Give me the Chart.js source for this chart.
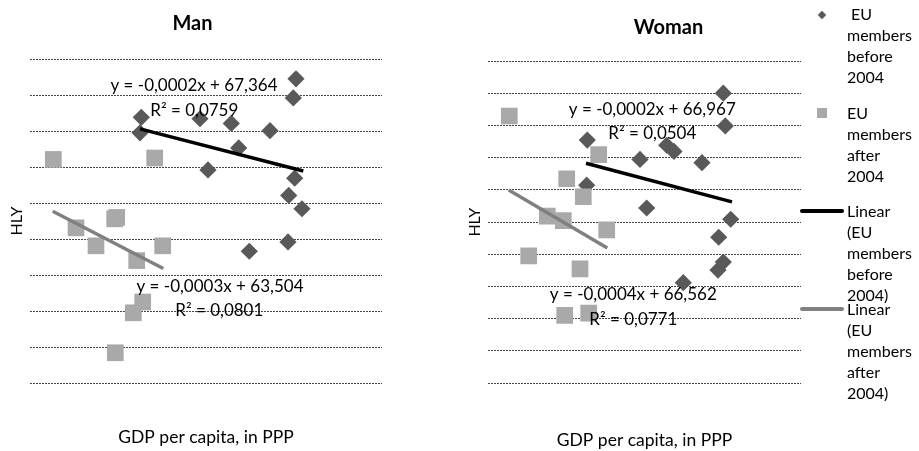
<!DOCTYPE html>
<html>
<head>
<meta charset="utf-8">
<script src="https://cdn.jsdelivr.net/npm/chart.js@4"></script>
<style>
  body { margin: 0; background: #fff; }
  #wrap { position: relative; width: 919px; height: 451px; background: #fff; overflow: hidden; font-family: Lato, sans-serif; }
  canvas { position: absolute; top: 0; }
  #man { left: 0; }
  #woman { left: 460px; }
  .leg { position: absolute; left: 847px; font-size: 16px; line-height: 21px; color: #000; }
  .mk { position: absolute; }
</style>
</head>
<body>
<div id="wrap">
  <canvas id="man" width="390" height="451"></canvas>
  <canvas id="woman" width="459" height="451"></canvas>

  <div class="mk" style="left:819px;top:12px;width:6px;height:6px;background:#595959;transform:rotate(45deg);"></div>
  <div class="leg" style="top:3px;">&nbsp;EU<br>members<br>before<br>2004</div>

  <div class="mk" style="left:817px;top:108px;width:10px;height:10px;background:#a9a9a9;"></div>
  <div class="leg" style="top:102px;">EU<br>members<br>after<br>2004</div>

  <div class="mk" style="left:800px;top:209px;width:44px;height:3.5px;background:#000;border-radius:2px;"></div>
  <div class="leg" style="top:200px;">Linear<br>(EU<br>members<br>before<br>2004)</div>

  <div class="mk" style="left:800px;top:307px;width:44px;height:3.5px;background:#808080;border-radius:2px;"></div>
  <div class="leg" style="top:298px;">Linear<br>(EU<br>members<br>after<br>2004)</div>
</div>
<script>
// --- Man ---
const manBeforeX = [26600, 26330, 11130, 11000, 17000, 20130, 24000, 20870, 17800, 26470, 25870, 27200, 25800, 21930];
const manBeforeY = [64.45, 63.92, 63.38, 62.95, 63.34, 63.21, 63.01, 62.53, 61.92, 61.69, 61.21, 60.84, 59.92, 59.66];
const manAfterX = [2330, 12470, 8670, 8470, 4600, 6600, 13270, 10670, 11270, 10330, 8530];
const manAfterY = [62.21, 62.25, 60.60, 60.56, 60.31, 59.81, 59.81, 59.40, 58.25, 57.95, 56.84];
const manTrendBeforeX = [11000, 27330];
const manTrendBeforeY = [63.06, 61.89];
const manTrendAfterX = [2270, 13330];
const manTrendAfterY = [60.77, 59.18];
const manEquations = ['y = -0,0002x + 67,364', 'R\u00B2 = 0,0759', 'y = -0,0003x + 63,504', 'R\u00B2 = 0,0801'];

// --- Woman ---
const womanBeforeX = [23530, 23730, 9930, 17870, 18600, 15200, 21400, 9870, 15870, 24270, 23070, 23530, 23000, 19530];
const womanBeforeY = [64.01, 62.99, 62.55, 62.39, 62.20, 61.95, 61.85, 61.15, 60.44, 60.09, 59.53, 58.76, 58.51, 58.12];
const womanAfterX = [2130, 11070, 7870, 9530, 5930, 7530, 11870, 4070, 9200, 7670, 10070];
const womanAfterY = [63.30, 62.10, 61.35, 60.79, 60.19, 60.05, 59.76, 58.95, 58.55, 57.10, 57.17];
const womanTrendBeforeX = [9800, 24400];
const womanTrendBeforeY = [61.83, 60.63];
const womanTrendAfterX = [2070, 11930];
const womanTrendAfterY = [61.00, 59.20];
const womanEquations = ['y = -0,0002x + 66,967', 'R\u00B2 = 0,0504', 'y = -0,0004x + 66,562', 'R\u00B2 = 0,0771'];

const FONT = 'Lato';
const DIAMOND = '#595959';
const SQUARE = '#a9a9a9';

const pts = (xs, ys) => xs.map((x, i) => ({ x: x, y: ys[i] }));

// draws the trendline equations at spots given in data units
const equationPlugin = {
  id: 'equations',
  afterDatasetsDraw(chart, args, opts) {
    const { ctx, scales } = chart;
    ctx.save();
    ctx.font = '17px ' + FONT;
    ctx.fillStyle = '#000';
    ctx.textAlign = 'center';
    ctx.textBaseline = 'middle';
    opts.items.forEach(it => {
      ctx.fillText(it.text, scales.x.getPixelForValue(it.x), scales.y.getPixelForValue(it.y));
    });
    ctx.restore();
  }
};

function makeChart(id, cfg) {
  const scales = {
    x: {
      type: 'linear',
      min: 0,
      max: cfg.xMax,
      grid: { display: false },
      border: { display: false },
      ticks: { display: false },
      title: { display: true, text: 'GDP per capita, in PPP', color: '#000', font: { family: FONT, size: 17.5 }, padding: cfg.xTitlePad },
      afterFit(scale) { scale.height = cfg.xAxisH; }
    },
    y: {
      min: cfg.yMin,
      max: cfg.yMax,
      ticks: { display: false, stepSize: 1 },
      grid: { color: '#444', lineWidth: 1, drawTicks: false },
      border: { display: false, dash: [2, 1] },
      title: { display: true, text: 'HLY', color: '#000', font: { family: FONT, size: 16 }, padding: 4 },
      afterFit(scale) { scale.width = cfg.yAxisW; }
    }
  };
  if (cfg.rightGap) {
    // empty box on the right so the title centres over plot + legend
    scales.gap = {
      position: 'right',
      display: true,
      grid: { display: false },
      border: { display: false },
      ticks: { display: false },
      afterFit(scale) { scale.width = cfg.rightGap; }
    };
  }
  return new Chart(document.getElementById(id), {
    type: 'scatter',
    plugins: [equationPlugin],
    data: {
      datasets: [
        {
          label: 'Linear (EU members before 2004)',
          data: pts(cfg.tbx, cfg.tby),
          showLine: true, borderColor: '#000', borderWidth: 3.5, pointRadius: 0, order: 0
        },
        {
          label: 'Linear (EU members after 2004)',
          data: pts(cfg.tax, cfg.tay),
          showLine: true, borderColor: '#808080', borderWidth: 3.5, pointRadius: 0, order: 0
        },
        {
          label: 'EU members after 2004',
          data: pts(cfg.ax, cfg.ay),
          pointStyle: 'rect', pointRadius: 11.8, backgroundColor: SQUARE, borderWidth: 0, order: 1
        },
        {
          label: ' EU members before 2004',
          data: pts(cfg.bx, cfg.by),
          pointStyle: 'rectRot', pointRadius: 8.6, backgroundColor: DIAMOND, borderWidth: 0, order: 2
        }
      ]
    },
    options: {
      responsive: false,
      animation: false,
      devicePixelRatio: 1,
      layout: { padding: cfg.layoutPad, autoPadding: false },
      scales: scales,
      plugins: {
        legend: { display: false },
        tooltip: { enabled: false },
        title: { display: true, text: cfg.title, color: '#000', font: { family: FONT, size: 20, weight: 'bold' }, padding: cfg.titlePad },
        equations: { items: cfg.eqItems }
      }
    }
  });
}

makeChart('man', {
  title: 'Man',
  bx: manBeforeX, by: manBeforeY, ax: manAfterX, ay: manAfterY,
  tbx: manTrendBeforeX, tby: manTrendBeforeY, tax: manTrendAfterX, tay: manTrendAfterY,
  xMax: 35200, yMin: 56, yMax: 65,
  xAxisH: 68, yAxisW: 27,
  layoutPad: { left: 3, right: 8, top: 0, bottom: 0 },
  titlePad: { top: 12, bottom: 23 },
  xTitlePad: { top: 44.8, bottom: 2.8 },
  eqItems: [
    { text: manEquations[0], x: 16400, y: 64.25 },
    { text: manEquations[1], x: 16430, y: 63.58 },
    { text: manEquations[2], x: 19000, y: 58.69 },
    { text: manEquations[3], x: 18930, y: 58.01 }
  ]
});

makeChart('woman', {
  title: 'Woman',
  bx: womanBeforeX, by: womanBeforeY, ax: womanAfterX, ay: womanAfterY,
  tbx: womanTrendBeforeX, tby: womanTrendBeforeY, tax: womanTrendAfterX, tay: womanTrendAfterY,
  xMax: 31300, yMin: 55, yMax: 65,
  rightGap: 75,
  xAxisH: 68, yAxisW: 27,
  layoutPad: { left: 1, right: 43, top: 0, bottom: 0 },
  titlePad: { top: 16, bottom: 21.3 },
  xTitlePad: { top: 48, bottom: 0 },
  eqItems: [
    { text: womanEquations[0], x: 16430, y: 63.49 },
    { text: womanEquations[1], x: 16430, y: 62.74 },
    { text: womanEquations[2], x: 14530, y: 57.74 },
    { text: womanEquations[3], x: 14530, y: 56.98 }
  ]
});
</script>
</body>
</html>
